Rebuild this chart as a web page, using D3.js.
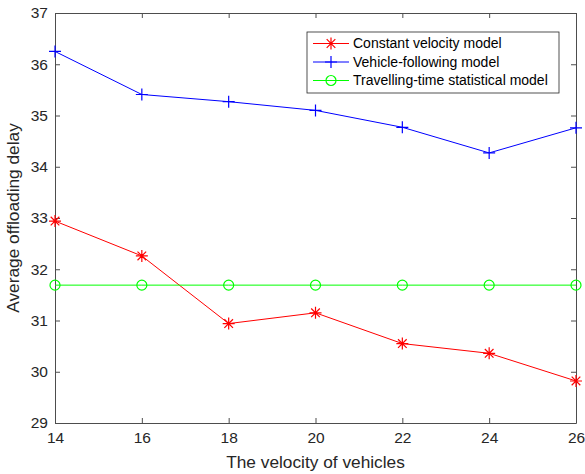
<!DOCTYPE html>
<html>
<head>
<meta charset="utf-8">
<script src="https://cdn.jsdelivr.net/npm/d3@7"></script>
<style>
  body { margin: 0; background: #fff; }
  svg { display: block; font-family: "Liberation Sans", Arial, Helvetica, sans-serif; }
</style>
</head>
<body>
<svg id="chart" width="585" height="474"></svg>
<script>
// Vehicle speed on the x axis
const velocities = [14, 16, 18, 20, 22, 24, 26];
// Average offloading delay for each model
const constantVelocity = [32.94, 32.26, 30.94, 31.15, 30.55, 30.36, 29.82];
const vehicleFollowing = [36.25, 35.41, 35.27, 35.10, 34.77, 34.27, 34.76];
const travellingTime = [31.69, 31.69, 31.69, 31.69, 31.69, 31.69, 31.69];
const xTicks = [14, 16, 18, 20, 22, 24, 26];
const yTicks = [29, 30, 31, 32, 33, 34, 35, 36, 37];
const seriesNames = ["Constant velocity model", "Vehicle-following model", "Travelling-time statistical model"];

const svg = d3.select("#chart");
const margin = { left: 55, right: 9, top: 13, bottom: 51 };
const W = 585, H = 474;
const x = d3.scaleLinear().domain([14, 26]).range([margin.left, W - margin.right]);
const y = d3.scaleLinear().domain([29, 37]).range([H - margin.bottom, margin.top]);

const axisColor = "#4d4d4d";
const tickLen = 5;

// Axes box and inward ticks
const g = svg.append("g");
const xAxis = d3.axisBottom(x).tickValues(xTicks).tickSize(-tickLen).tickPadding(9).tickSizeOuter(0);
const yAxis = d3.axisLeft(y).tickValues(yTicks).tickSize(-tickLen).tickPadding(7).tickSizeOuter(0);
const xAxisTop = d3.axisTop(x).tickValues(xTicks).tickSize(-tickLen).tickFormat("").tickSizeOuter(0);
const yAxisRight = d3.axisRight(y).tickValues(yTicks).tickSize(-tickLen).tickFormat("").tickSizeOuter(0);

function style(sel) {
  sel.selectAll("path").attr("stroke", axisColor).attr("stroke-width", 1);
  sel.selectAll("line").attr("stroke", axisColor).attr("stroke-width", 1);
  sel.selectAll("text").attr("fill", "#262626").style("font-size", "15.5px")
     .style("font-family", "'Liberation Sans', Arial, Helvetica, sans-serif");
}
g.append("g").attr("transform", `translate(0,${y(29)})`).call(xAxis).call(style);
g.append("g").attr("transform", `translate(${x(14)},0)`).call(yAxis).call(style);
g.append("g").attr("transform", `translate(0,${y(37)})`).call(xAxisTop).call(style);
g.append("g").attr("transform", `translate(${x(26)},0)`).call(yAxisRight).call(style);

// Axis titles
svg.append("text").attr("x", (x(14) + x(26)) / 2).attr("y", 468)
  .attr("text-anchor", "middle").attr("fill", "#262626").style("font-size", "17.3px")
  .text("The velocity of vehicles");
svg.append("text").attr("transform", `translate(18.5,${(y(29) + y(37)) / 2}) rotate(-90)`)
  .attr("text-anchor", "middle").attr("fill", "#262626").style("font-size", "17.3px")
  .text("Average offloading delay");

// Marker shapes
function asterisk(sel, s) {
  const r = s;
  const d = `M${-r},0L${r},0M0,${-r}L0,${r}M${-r * 0.72},${-r * 0.72}L${r * 0.72},${r * 0.72}M${-r * 0.72},${r * 0.72}L${r * 0.72},${-r * 0.72}`;
  sel.append("path").attr("d", d);
}
function plus(sel, s) {
  sel.append("path").attr("d", `M${-s},0L${s},0M0,${-s}L0,${s}`);
}
function circle(sel, s) {
  sel.append("circle").attr("r", s).attr("fill", "none");
}

const series = [
  { name: seriesNames[0], values: constantVelocity, color: "#ff0000", marker: asterisk, size: 6 },
  { name: seriesNames[1], values: vehicleFollowing, color: "#0000ff", marker: plus, size: 6 },
  { name: seriesNames[2], values: travellingTime, color: "#00ff00", marker: circle, size: 5 }
];

const line = d3.line().x((d, i) => x(velocities[i])).y(d => y(d));

series.forEach(s => {
  svg.append("path").datum(s.values).attr("d", line)
    .attr("fill", "none").attr("stroke", s.color).attr("stroke-width", 1);
  s.values.forEach((v, i) => {
    const m = svg.append("g").attr("transform", `translate(${x(velocities[i])},${y(v)})`)
      .attr("stroke", s.color).attr("stroke-width", 1.2);
    s.marker(m, s.size);
  });
});

// Legend
const lg = svg.append("g").attr("transform", "translate(307,32)");
lg.append("rect").attr("width", 252).attr("height", 61)
  .attr("fill", "#fff").attr("stroke", "#262626").attr("stroke-width", 0.8);
series.forEach((s, i) => {
  const yy = 11.5 + i * 18.5;
  lg.append("line").attr("x1", 6).attr("x2", 42).attr("y1", yy).attr("y2", yy)
    .attr("stroke", s.color).attr("stroke-width", 1);
  const m = lg.append("g").attr("transform", `translate(24,${yy})`)
    .attr("stroke", s.color).attr("stroke-width", 1.2);
  s.marker(m, s.size);
  lg.append("text").attr("x", 46).attr("y", yy).attr("dy", "0.35em")
    .attr("fill", "#000").style("font-size", "14px").text(s.name);
});
</script>
</body>
</html>
